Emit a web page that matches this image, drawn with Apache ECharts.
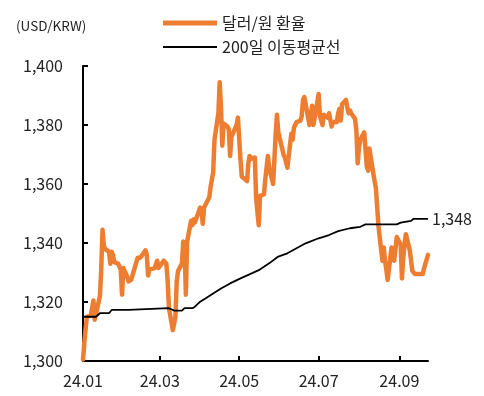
<!DOCTYPE html>
<html><head><meta charset="utf-8">
<script src="https://cdn.jsdelivr.net/npm/echarts@6/dist/echarts.min.js"></script>
<style>html,body{margin:0;padding:0;background:#fff}#c{width:484px;height:396px}</style>
</head><body><div id="c"></div>
<script>
const YEAR = '2024-';
const unitLabel = '(USD/KRW)';
const seriesNames = ['달러/원 환율', '200일 이동평균선'];

const rateDates = [
'01-02','01-03','01-04','01-05','01-08','01-09','01-10','01-11','01-12','01-15','01-16','01-17','01-18','01-19','01-22','01-23','01-24','01-25','01-26','01-29','01-30','01-31',
'02-01','02-02','02-05','02-06','02-07','02-08','02-13','02-14','02-15','02-16','02-19','02-20','02-21','02-22','02-23','02-26','02-27','02-28','02-29',
'03-04','03-05','03-06','03-07','03-08','03-11','03-12','03-13','03-14','03-15','03-18','03-19','03-20','03-21','03-22','03-25','03-26','03-27','03-28','03-29',
'04-01','04-02','04-03','04-04','04-05','04-08','04-09','04-11','04-12','04-15','04-16','04-17','04-18','04-19','04-22','04-23','04-24','04-25','04-26','04-29','04-30',
'05-02','05-03','05-07','05-08','05-09','05-10','05-13','05-14','05-16','05-17','05-20','05-21','05-22','05-23','05-24','05-27','05-28','05-29','05-30','05-31',
'06-03','06-04','06-05','06-07','06-10','06-11','06-12','06-13','06-14','06-17','06-18','06-19','06-20','06-21','06-24','06-25','06-26','06-27','06-28',
'07-01','07-02','07-03','07-04','07-05','07-08','07-09','07-10','07-11','07-12','07-15','07-16','07-17','07-18','07-19','07-22','07-23','07-24','07-25','07-26','07-29','07-30','07-31',
'08-01','08-02','08-05','08-06','08-07','08-08','08-09','08-12','08-13','08-14','08-16','08-19','08-20','08-21','08-22','08-23','08-26','08-27','08-28','08-29','08-30',
'09-02','09-03','09-04','09-05','09-06','09-09','09-10','09-11','09-12','09-13','09-19','09-20','09-23'
];
const rateValues = [
1300.5,1306,1311,1315,1315.5,1316,1320.5,1314,1316,1322,1331,1344.5,1339,1338,1337,1333,1337,1336,1333.5,1333,1332,1331,
1322.5,1331.5,1328.5,1327,1327.5,1327.5,1335,1335.5,1335,1335.5,1337.5,1336,1329,1331,1331.5,1331.5,1332,1334,1331.5,
1334,1334,1333,1327.5,1318,1310.5,1311,1315,1327,1330.5,1333,1340.5,1339.5,1322.5,1340.5,1347.5,1346,1348,1347,1347,
1352,1351,1346.5,1352,1352.5,1355.5,1359,1364,1375,1384,1394.5,1386,1373,1380.5,1379.5,1378.5,1369.5,1376,1376,1380,1382.5,
1368,1362.5,1361,1367,1369.5,1368.5,1369,1355,1346,1356,1356.5,1361.5,1361,1369.5,1365.5,1360,1368,1377,1383.5,1377.5,
1372,1370,1369,1365.5,1377,1375,1379,1380,1381,1381.5,1383,1388.5,1389.5,1389,1380,1379.5,1386.5,1380,1380.5,
1390.5,1383,1382.5,1380,1383.5,1382.5,1384,1384.5,1379.5,1381,1381,1384,1385.5,1381.5,1387,1388.5,1386,1384,1385,1384,1382,1378,1367,
1372.5,1375,1377.5,1377,1366,1364.5,1372,1363.5,1361,1358.5,1345.5,1334,1338.5,1334,1331,1327.5,1338.5,1337,1334,1338,1342,
1339.5,1328,1335,1339.5,1343,1337.5,1334,1330.5,1330,1329.5,1329.5,1331.5,1336
];

const maDates = ['01-02','01-12','01-15','01-22','01-24','02-06','02-07','03-08','03-12','03-18','03-20','03-26','03-28','04-01','04-05','04-11','04-17','04-24','05-02','05-08','05-16','05-24','05-31','06-07','06-14','06-21','07-01','07-09','07-16','07-25','08-02','08-06','08-30','09-02','09-10','09-12','09-23'];
const maValues = [1315.0,1315.0,1316.2,1316.2,1317.3,1317.3,1317.9,1317.9,1317.1,1317.1,1317.9,1317.9,1318.4,1320.1,1321.2,1322.9,1324.6,1326.3,1328.0,1329.2,1330.8,1333.1,1335.4,1336.5,1338.2,1339.9,1341.6,1342.7,1344.0,1345.0,1345.5,1346.3,1346.3,1346.9,1347.5,1348.2,1348.2];

const xLabelDates = ['01-02','03-01','05-01','07-01','09-01'];
const xLabels = ['24.01','24.03','24.05','24.07','24.09'];
const xTickDates = ['03-01','05-01','07-01','09-01'];
const axisStart = '01-02', axisEnd = '09-23';
const yMin = 1300, yMax = 1400, yStep = 20;

const ts = s => echarts.number.parseDate(YEAR + s).getTime();
const fmt = v => Math.round(v).toLocaleString('en-US');
const FONT = '"Noto Sans CJK KR", "Noto Sans", sans-serif';
const TXT = '#222';

const chart = echarts.init(document.getElementById('c'), null, {renderer: 'canvas'});
chart.setOption({
  animation: false,
  backgroundColor: '#fff',
  textStyle: {fontFamily: FONT},
  title: {text: unitLabel, left: 11, top: 14, textStyle: {fontSize: 13.5, fontWeight: 'normal', color: TXT, fontFamily: FONT}},
  legend: {
    left: 158, top: 8, orient: 'vertical', itemWidth: 54, itemHeight: 14, itemGap: 4,
    textStyle: {fontSize: 16, lineHeight: 20, color: TXT, fontFamily: FONT},
    data: [
      {name: seriesNames[0], icon: 'path://M0 0H54V5H0Z'},
      {name: seriesNames[1], icon: 'path://M0 0H54V2H0Z'}
    ]
  },
  grid: {left: 83, right: 56, top: 66, bottom: 35, containLabel: false, outerBoundsMode: 'none'},
  xAxis: {
    type: 'value', min: ts(axisStart), max: ts(axisEnd),
    axisLine: {lineStyle: {color: '#000', width: 2}},
    axisTick: {show: true, inside: true, length: 5, lineStyle: {color: '#000', width: 2}, customValues: xTickDates.map(ts)},
    axisLabel: {
      customValues: xLabelDates.map(ts), fontSize: 16, color: TXT, margin: 12, fontFamily: FONT,
      formatter: v => { const i = xLabelDates.map(ts).indexOf(v); return i >= 0 ? xLabels[i] : ''; }
    },
    splitLine: {show: false}
  },
  yAxis: {
    type: 'value', min: yMin, max: yMax, interval: yStep,
    axisLine: {show: true, lineStyle: {color: '#000', width: 2}},
    axisTick: {show: true, inside: true, length: 5, lineStyle: {color: '#000', width: 2}},
    axisLabel: {fontSize: 16, color: TXT, margin: 20, fontFamily: FONT, formatter: v => fmt(v)},
    splitLine: {show: false}
  },
  series: [
    {
      name: seriesNames[0], type: 'line', showSymbol: false, symbol: 'none',
      data: rateDates.map((d, i) => [ts(d), rateValues[i]]),
      lineStyle: {color: '#ED7D31', width: 4.5, cap: 'round', join: 'round'},
      itemStyle: {color: '#ED7D31'}
    },
    {
      name: seriesNames[1], type: 'line', showSymbol: false, symbol: 'none',
      data: maDates.map((d, i) => [ts(d), maValues[i]]),
      lineStyle: {color: '#000', width: 1.8},
      itemStyle: {color: '#000'},
      endLabel: {show: true, formatter: p => fmt(p.value[1]), fontSize: 16, color: TXT, distance: 4, fontFamily: FONT}
    }
  ]
});
</script></body></html>
